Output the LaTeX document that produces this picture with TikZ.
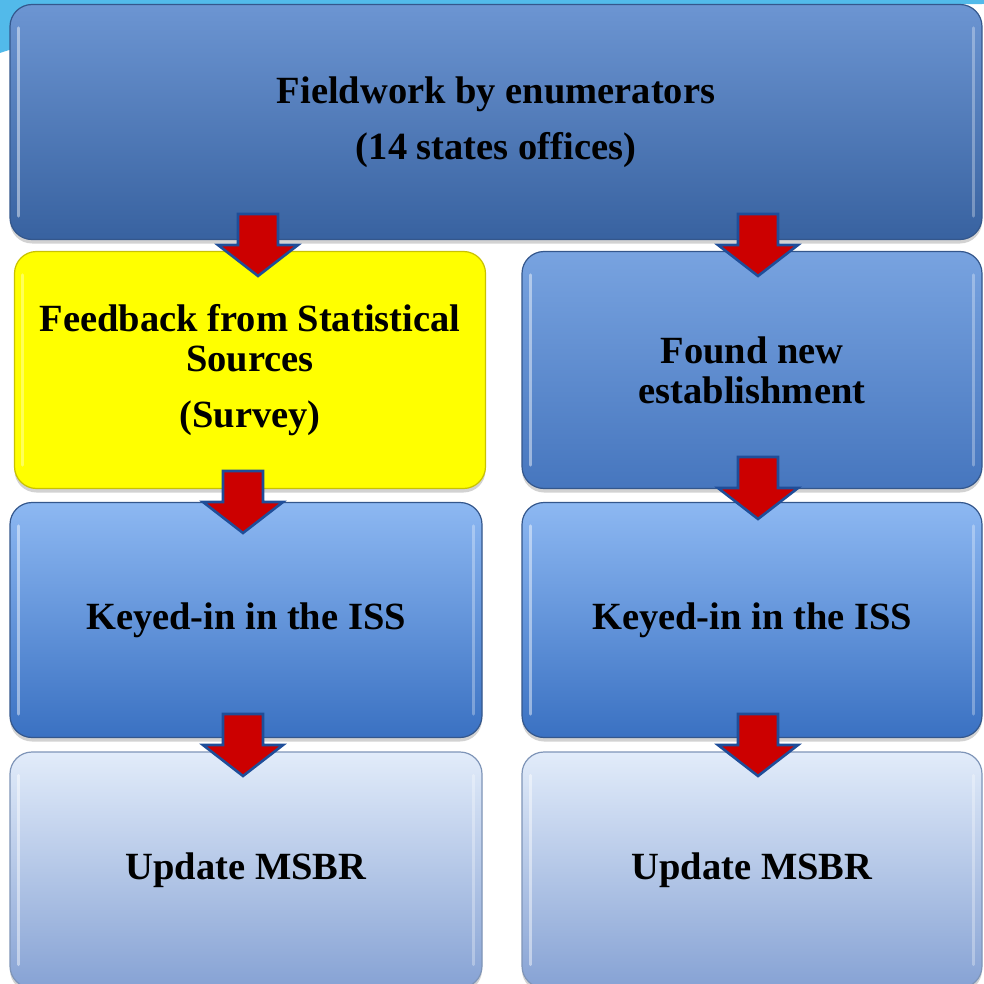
\documentclass[tikz,border=0pt]{standalone}
\usepackage{fontspec}
\setmainfont{Liberation Serif}
\usetikzlibrary{shadows}
\definecolor{skycyan}{HTML}{52BAEA}
\definecolor{topA}{HTML}{6C95D2}
\definecolor{topB}{HTML}{3862A0}
\definecolor{midA}{HTML}{78A3E0}
\definecolor{midB}{HTML}{4676BE}
\definecolor{keyA}{HTML}{8DB8F2}
\definecolor{keyB}{HTML}{3A71C2}
\definecolor{updA}{HTML}{E2ECFA}
\definecolor{updB}{HTML}{86A2D4}
\definecolor{rimblue}{HTML}{34578C}
\definecolor{rimlight}{HTML}{7F95B8}
\definecolor{yelrim}{HTML}{C9C200}
\definecolor{pureyellow}{HTML}{FFFF00}
\definecolor{arrred}{HTML}{CC0000}
\definecolor{arrblue}{HTML}{1F4E99}
\begin{document}
\begin{tikzpicture}[x=1pt,y=-1pt,
  box/.style={rectangle, rounded corners=22pt, line width=1.2pt, inner sep=0pt,
    align=center, font=\fontsize{38.5}{40}\selectfont\bfseries,
    drop shadow={opacity=0.35, shadow xshift=0pt, shadow yshift=-4pt}},
  darkbox/.style={box, draw=rimblue, top color=topA, bottom color=topB},
  midbox/.style={box, draw=rimblue, top color=midA, bottom color=midB},
  keybox/.style={box, draw=rimblue, top color=keyA, bottom color=keyB},
  updbox/.style={box, draw=rimlight, top color=updA, bottom color=updB},
  yelbox/.style={box, draw=yelrim, fill=pureyellow},
  hl/.style={white, opacity=0.45, line width=3pt, line cap=round},
  arrowstyle/.style={fill=arrred, draw=arrblue, line width=2.6pt, line join=miter},
  blockarrow/.pic={\draw[arrowstyle] (-20,-31) -- (20,-31) -- (20,0) -- (40,0) -- (0,31) -- (-40,0) -- (-20,0) -- cycle;}
]
\useasboundingbox (0,0) rectangle (984,984);
\clip (0,0) rectangle (984,984);
\fill[white] (0,0) rectangle (984,984);
\fill[skycyan] (0,0) -- (984,0) -- (984,4) .. controls (400,5) and (100,18) .. (0,53) -- cycle;

% boxes
\node[darkbox, minimum width=972pt, minimum height=235pt] (field) at (496,122)
  {Fieldwork by enumerators\\[16pt](14 states offices)};
\node[yelbox, minimum width=471pt, minimum height=237pt] (feed) at (250,370)
  {Feedback from Statistical\\Sources\\[16pt](Survey)};
\node[midbox, minimum width=460pt, minimum height=237pt] (found) at (752,370)
  {Found new\\establishment};
\node[keybox, minimum width=472pt, minimum height=235pt] (keyL) at (246,620)
  {Keyed-in in the ISS};
\node[keybox, minimum width=460pt, minimum height=235pt] (keyR) at (752,620)
  {Keyed-in in the ISS};
\node[updbox, minimum width=472pt, minimum height=236pt] (updL) at (246,870)
  {Update MSBR};
\node[updbox, minimum width=460pt, minimum height=236pt] (updR) at (752,870)
  {Update MSBR};

% glossy highlights
\foreach \n in {field,found,keyL,keyR,updL,updR}{
  \draw[hl] ([xshift=9pt,yshift=-24pt]\n.north west) -- ([xshift=9pt,yshift=24pt]\n.south west);
  \draw[hl, opacity=0.3] ([xshift=-9pt,yshift=-24pt]\n.north east) -- ([xshift=-9pt,yshift=24pt]\n.south east);
}
\draw[white, opacity=0.35, line width=3pt, line cap=round] ([xshift=9pt,yshift=-24pt]feed.north west) -- ([xshift=9pt,yshift=24pt]feed.south west);

% block arrows between boxes
\path (258,245) pic {blockarrow};
\path (758,245) pic {blockarrow};
\path (243,502) pic {blockarrow};
\path (758,488) pic {blockarrow};
\path (243,745) pic {blockarrow};
\path (758,745) pic {blockarrow};
\end{tikzpicture}
\end{document}
